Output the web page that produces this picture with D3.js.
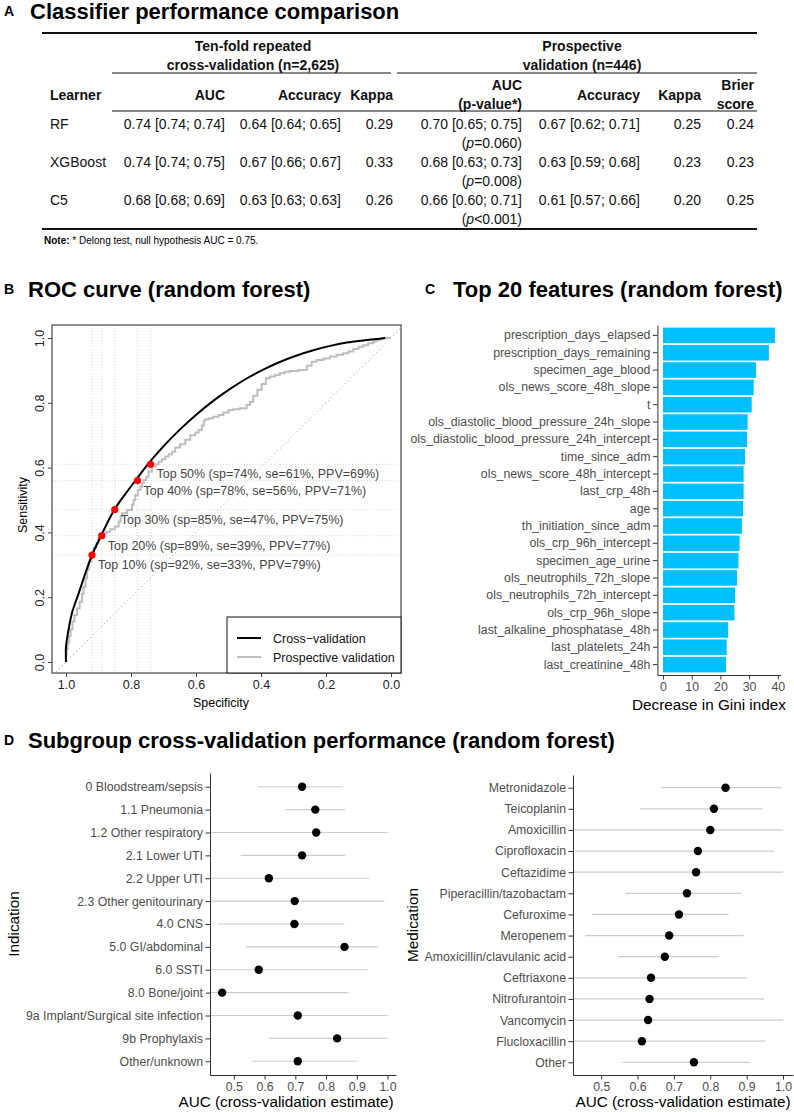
<!DOCTYPE html>
<html lang="en">
<head>
<meta charset="UTF-8">
<title>Classifier performance comparison</title>
<script src="https://d3js.org/d3.v7.min.js"></script>
<style>
  body { margin: 0; background: #fff; }
  svg { display: block; font-family: "Liberation Sans", Arial, Helvetica, sans-serif; }
  .tag { font-size: 14px; font-weight: bold; }
  .title { font-size: 22px; font-weight: bold; }
  .tbl { font-size: 14px; fill: #111; }
  .tbl.hd { font-weight: bold; }
  .note { font-size: 10px; }
  .roc-lab { font-size: 12.5px; fill: #444; }
  .roc-axis text { font-size: 12.5px; fill: #222; }
  .roc-axis line { stroke: #444; }
  .gg-axis text { font-size: 12.3px; fill: #4d4d4d; }
  .gg-axis line, .gg-axis path { stroke: #333; }
  .gg-title { font-size: 15.3px; fill: #000; }
</style>
</head>
<body>
<svg id="fig" width="794" height="1112"></svg>
<script>
// ---- table (panel A) ----
const learners = ["RF", "XGBoost", "C5"];
const cvAuc = ["0.74 [0.74; 0.74]", "0.74 [0.74; 0.75]", "0.68 [0.68; 0.69]"];
const cvAccuracy = ["0.64 [0.64; 0.65]", "0.67 [0.66; 0.67]", "0.63 [0.63; 0.63]"];
const cvKappa = ["0.29", "0.33", "0.26"];
const prosAuc = ["0.70 [0.65; 0.75]", "0.68 [0.63; 0.73]", "0.66 [0.60; 0.71]"];
const prosP = ["=0.060", "=0.008", "<0.001"];
const prosAccuracy = ["0.67 [0.62; 0.71]", "0.63 [0.59; 0.68]", "0.61 [0.57; 0.66]"];
const prosKappa = ["0.25", "0.23", "0.20"];
const prosBrier = ["0.24", "0.23", "0.25"];

// ---- ROC (panel B) : [specificity, sensitivity] ----
const cvRoc = [[1.000,0.000],[1.000,0.047],[0.994,0.089],[0.982,0.150],[0.961,0.212],[0.940,0.275],
  [0.920,0.330],[0.891,0.392],[0.853,0.467],[0.820,0.515],[0.787,0.559],[0.746,0.613],[0.700,0.666],
  [0.649,0.718],[0.602,0.761],[0.547,0.806],[0.495,0.843],[0.444,0.875],[0.390,0.904],[0.342,0.926],
  [0.290,0.946],[0.239,0.962],[0.190,0.975],[0.136,0.986],[0.080,0.993],[0.034,0.998],[0.018,1.000]];
const prospectiveRoc = [[1.000,0.000],[0.998,0.020],[0.995,0.040],[0.990,0.060],[0.986,0.080],[0.980,0.100],
  [0.974,0.125],[0.966,0.145],[0.958,0.165],[0.951,0.186],[0.946,0.210],[0.940,0.232],[0.935,0.258],
  [0.930,0.284],[0.922,0.310],[0.915,0.336],[0.906,0.352],[0.900,0.367],[0.893,0.382],[0.889,0.392],
  [0.876,0.397],[0.864,0.402],[0.850,0.410],[0.838,0.418],[0.832,0.433],[0.828,0.449],[0.812,0.459],
  [0.797,0.469],[0.792,0.485],[0.787,0.500],[0.779,0.515],[0.771,0.531],[0.766,0.541],[0.761,0.552],
  [0.753,0.562],[0.746,0.572],[0.735,0.588],[0.725,0.603],[0.715,0.610],[0.705,0.618],[0.694,0.626],
  [0.684,0.634],[0.674,0.641],[0.664,0.649],[0.649,0.662],[0.633,0.672],[0.618,0.686],[0.602,0.700],
  [0.592,0.708],[0.582,0.716],[0.576,0.730],[0.571,0.745],[0.560,0.749],[0.547,0.752],[0.531,0.757],
  [0.516,0.762],[0.500,0.770],[0.485,0.778],[0.465,0.780],[0.444,0.783],[0.434,0.793],[0.424,0.803],
  [0.411,0.822],[0.398,0.840],[0.385,0.858],[0.372,0.876],[0.357,0.881],[0.342,0.886],[0.327,0.891],
  [0.311,0.896],[0.285,0.898],[0.259,0.901],[0.244,0.914],[0.229,0.927],[0.208,0.932],[0.188,0.937],
  [0.167,0.943],[0.147,0.948],[0.131,0.953],[0.116,0.958],[0.100,0.966],[0.085,0.973],[0.070,0.978],
  [0.054,0.984],[0.044,0.989],[0.034,0.994],[0.024,0.996],[0.013,0.999],[0.000,1.000]];
const cutoffSpec = [0.92, 0.89, 0.85, 0.78, 0.74];
const cutoffSens = [0.33, 0.39, 0.47, 0.56, 0.61];
const cutoffLabels = ["Top 10% (sp=92%, se=33%, PPV=79%)", "Top 20% (sp=89%, se=39%, PPV=77%)",
  "Top 30% (sp=85%, se=47%, PPV=75%)", "Top 40% (sp=78%, se=56%, PPV=71%)", "Top 50% (sp=74%, se=61%, PPV=69%)"];
const rocTicks = [0, 0.2, 0.4, 0.6, 0.8, 1.0];

// ---- feature importance (panel C) ----
const featureNames = ["prescription_days_elapsed", "prescription_days_remaining", "specimen_age_blood",
  "ols_news_score_48h_slope", "t", "ols_diastolic_blood_pressure_24h_slope",
  "ols_diastolic_blood_pressure_24h_intercept", "time_since_adm", "ols_news_score_48h_intercept",
  "last_crp_48h", "age", "th_initiation_since_adm", "ols_crp_96h_intercept", "specimen_age_urine",
  "ols_neutrophils_72h_slope", "ols_neutrophils_72h_intercept", "ols_crp_96h_slope",
  "last_alkaline_phosphatase_48h", "last_platelets_24h", "last_creatinine_48h"];
const featureGini = [39.0, 36.9, 32.4, 31.6, 30.9, 29.5, 29.3, 28.6, 28.1, 28.1, 27.9, 27.5, 26.7, 26.3,
  25.8, 25.1, 24.9, 22.7, 22.2, 22.0];
const giniTicks = [0, 10, 20, 30, 40];

// ---- subgroups (panel D) ----
const indicationNames = ["0 Bloodstream/sepsis", "1.1 Pneumonia", "1.2 Other respiratory", "2.1 Lower UTI",
  "2.2 Upper UTI", "2.3 Other genitourinary", "4.0 CNS", "5.0 GI/abdominal", "6.0 SSTI", "8.0 Bone/joint",
  "9a Implant/Surgical site infection", "9b Prophylaxis", "Other/unknown"];
const indicationAuc = [0.722, 0.765, 0.768, 0.722, 0.614, 0.698, 0.697, 0.860, 0.581, 0.462, 0.708, 0.836, 0.708];
const indicationLo = [0.578, 0.670, 0.38, 0.522, 0.38, 0.38, 0.448, 0.540, 0.38, 0.38, 0.38, 0.614, 0.557];
const indicationHi = [0.855, 0.862, 1.000, 0.862, 0.941, 0.990, 0.860, 0.967, 0.936, 0.873, 1.000, 1.000, 0.900];

const medicationNames = ["Metronidazole", "Teicoplanin", "Amoxicillin", "Ciprofloxacin", "Ceftazidime",
  "Piperacillin/tazobactam", "Cefuroxime", "Meropenem", "Amoxicillin/clavulanic acid", "Ceftriaxone",
  "Nitrofurantoin", "Vancomycin", "Flucloxacillin", "Other"];
const medicationAuc = [0.842, 0.810, 0.800, 0.766, 0.761, 0.736, 0.714, 0.687, 0.675, 0.637, 0.633, 0.629, 0.612, 0.755];
const medicationLo = [0.665, 0.607, 0.38, 0.429, 0.38, 0.566, 0.475, 0.455, 0.546, 0.38, 0.38, 0.38, 0.38, 0.558];
const medicationHi = [0.996, 0.944, 1.000, 0.975, 1.000, 0.886, 0.851, 0.892, 0.823, 0.900, 0.948, 1.000, 0.951, 0.910];
const aucTicks = [0.5, 0.6, 0.7, 0.8, 0.9, 1.0];

const svg = d3.select("#fig");

function panelTitle(tag, title, x, y) {
    svg.append("text").attr("class", "tag").attr("x", 4).attr("y", y - 3).text(tag);
    svg.append("text").attr("class", "title").attr("x", x).attr("y", y).text(title);
}

/* ================= A: table ================= */
panelTitle("A", "Classifier performance comparison", 30, 19);

const colRight = [225, 341, 393, 522, 640, 701, 754];
const rowY = d3.scaleLinear().domain([0, 1]).range([129, 167]);

function rule(x1, x2, y, w) {
    svg.append("line").attr("x1", x1).attr("x2", x2).attr("y1", y).attr("y2", y)
       .attr("stroke", "#111").attr("stroke-width", w);
}
rule(42, 757, 33, 2.2);
rule(112, 391, 73, 1);
rule(397, 757, 73, 1);
rule(112, 757, 111, 1);
rule(42, 757, 229, 2.2);

function txt(x, y, s, anchor, cls) {
    return svg.append("text").attr("class", "tbl " + (cls || "")).attr("x", x).attr("y", y)
              .attr("text-anchor", anchor || "end").text(s);
}
txt(253, 51, "Ten-fold repeated", "middle", "hd");
txt(253, 70, "cross-validation (n=2,625)", "middle", "hd");
txt(582, 51, "Prospective", "middle", "hd");
txt(582, 70, "validation (n=446)", "middle", "hd");

txt(50, 100, "Learner", "start", "hd");
txt(colRight[0], 100, "AUC", "end", "hd");
txt(colRight[1], 100, "Accuracy", "end", "hd");
txt(colRight[2], 100, "Kappa", "end", "hd");
txt(colRight[3], 90, "AUC", "end", "hd");
txt(colRight[3], 109, "(p-value*)", "end", "hd");
txt(colRight[4], 100, "Accuracy", "end", "hd");
txt(colRight[5], 100, "Kappa", "end", "hd");
txt(colRight[6], 90, "Brier", "end", "hd");
txt(colRight[6], 109, "score", "end", "hd");

learners.forEach((l, i) => {
    const y = rowY(i);
    txt(50, y, l, "start");
    txt(colRight[0], y, cvAuc[i]);
    txt(colRight[1], y, cvAccuracy[i]);
    txt(colRight[2], y, cvKappa[i]);
    txt(colRight[3], y, prosAuc[i]);
    const p = txt(colRight[3], y + 19, "(");
    p.append("tspan").style("font-style", "italic").text("p");
    p.append("tspan").text(prosP[i] + ")");
    txt(colRight[4], y, prosAccuracy[i]);
    txt(colRight[5], y, prosKappa[i]);
    txt(colRight[6], y, prosBrier[i]);
});

const note = svg.append("text").attr("class", "note").attr("x", 44).attr("y", 244);
note.append("tspan").style("font-weight", "bold").text("Note:");
note.append("tspan").text(" * Delong test, null hypothesis AUC = 0.75.");

/* ================= B: ROC ================= */
panelTitle("B", "ROC curve (random forest)", 28, 297);

const box = { x0: 52, x1: 401, y0: 325, y1: 673 };
const rocX = d3.scaleLinear().domain([1, 0]).range([66, 391]);
const rocY = d3.scaleLinear().domain([0, 1]).range([662, 338]);

svg.append("clipPath").attr("id", "rocClip").append("rect")
   .attr("x", box.x0).attr("y", box.y0).attr("width", box.x1 - box.x0).attr("height", box.y1 - box.y0);
const roc = svg.append("g").attr("clip-path", "url(#rocClip)");

// dotted guides at the cut-offs
cutoffSpec.forEach(s => {
    roc.append("line").attr("x1", rocX(s)).attr("x2", rocX(s)).attr("y1", box.y0).attr("y2", box.y1)
       .attr("stroke", "#d9d9d9").attr("stroke-dasharray", "1,2");
});
cutoffSens.forEach(s => {
    roc.append("line").attr("x1", box.x0).attr("x2", box.x1).attr("y1", rocY(s)).attr("y2", rocY(s))
       .attr("stroke", "#d9d9d9").attr("stroke-dasharray", "1,2");
});
// chance diagonal
roc.append("line").attr("x1", rocX(1.1)).attr("y1", rocY(-0.1)).attr("x2", rocX(-0.1)).attr("y2", rocY(1.1))
   .attr("stroke", "#9a9a9a").attr("stroke-dasharray", "1,3");

roc.append("path").datum(prospectiveRoc)
   .attr("d", d3.line().x(d => rocX(d[0])).y(d => rocY(d[1])).curve(d3.curveStepBefore))
   .attr("fill", "none").attr("stroke", "#bdbdbd").attr("stroke-width", 2);
roc.append("path").datum(cvRoc)
   .attr("d", d3.line().x(d => rocX(d[0])).y(d => rocY(d[1])).curve(d3.curveCatmullRom))
   .attr("fill", "none").attr("stroke", "#000").attr("stroke-width", 2);

cutoffSpec.forEach((s, i) => {
    svg.append("circle").attr("cx", rocX(s)).attr("cy", rocY(cutoffSens[i])).attr("r", 3.6).attr("fill", "#f00");
    svg.append("text").attr("class", "roc-lab").attr("x", rocX(s) + 6).attr("y", rocY(cutoffSens[i]) + 14)
       .text(cutoffLabels[i]);
});

const rocYAxis = svg.append("g").attr("class", "roc-axis").attr("transform", `translate(${box.x0},0)`)
   .call(d3.axisLeft(rocY).tickValues(rocTicks).tickFormat(d3.format(".1f")).tickSize(4).tickSizeOuter(0));
rocYAxis.select(".domain").remove();
rocYAxis.selectAll("text").attr("transform", "rotate(-90)").attr("x", 0).attr("y", -8).attr("dy", 0)
   .style("text-anchor", "middle");
const rocXAxis = svg.append("g").attr("class", "roc-axis").attr("transform", `translate(0,${box.y1})`)
   .call(d3.axisBottom(rocX).tickValues(rocTicks).tickFormat(d3.format(".1f")).tickSize(4).tickPadding(3));
rocXAxis.select(".domain").remove();

svg.append("rect").attr("x", box.x0).attr("y", box.y0).attr("width", box.x1 - box.x0).attr("height", box.y1 - box.y0)
   .attr("fill", "none").attr("stroke", "#444").attr("stroke-width", 1.2);

svg.append("text").attr("x", 221).attr("y", 707).attr("text-anchor", "middle").style("font-size", "12.4px")
   .text("Specificity");
svg.append("text").attr("transform", "translate(27,505) rotate(-90)").attr("text-anchor", "middle")
   .style("font-size", "12.4px").text("Sensitivity");

// legend
const leg = svg.append("g");
leg.append("rect").attr("x", 227).attr("y", 617).attr("width", 174).attr("height", 56)
   .attr("fill", "#fff").attr("stroke", "#111").attr("stroke-width", 1);
[["Cross\u2212validation", "#000", 638], ["Prospective validation", "#bdbdbd", 657]].forEach(([lab, col, y]) => {
    leg.append("line").attr("x1", 237).attr("x2", 261).attr("y1", y).attr("y2", y)
       .attr("stroke", col).attr("stroke-width", 2);
    leg.append("text").attr("x", 273).attr("y", y + 4.5).style("font-size", "12.5px").attr("fill", "#111").text(lab);
});

/* ================= C: feature importance ================= */
svg.append("text").attr("class", "tag").attr("x", 425).attr("y", 294).text("C");
svg.append("text").attr("class", "title").attr("x", 453).attr("y", 297).text("Top 20 features (random forest)");

const gx = d3.scaleLinear().domain([-1.95, 40.95]).range([657.4, 780.5]);
const gy = d3.scaleBand().domain(featureNames).range([325, 675]).paddingInner(0.1).paddingOuter(0.15);

svg.append("g").selectAll("rect").data(featureNames).join("rect")
   .attr("x", gx(0)).attr("y", d => gy(d)).attr("height", gy.bandwidth())
   .attr("width", (d, i) => gx(featureGini[i]) - gx(0))
   .attr("fill", "#00bfff");

svg.append("g").attr("class", "gg-axis").attr("transform", "translate(657.4,0)")
   .call(d3.axisLeft(gy).tickSize(4.5).tickPadding(2.5).tickSizeOuter(0));
svg.append("g").attr("class", "gg-axis").attr("transform", "translate(0,675)")
   .call(d3.axisBottom(gx).tickValues(giniTicks).tickSize(4.5).tickPadding(2.5).tickSizeOuter(0));
svg.append("text").attr("class", "gg-title").attr("x", 709).attr("y", 710).attr("text-anchor", "middle")
   .text("Decrease in Gini index");

/* ================= D: subgroups ================= */
panelTitle("D", "Subgroup cross-validation performance (random forest)", 28, 748);

function dotPanel(names, auc, lo, hi, x0, x1, y0, y1, yTitle, yTitleX, xTitleX, clipId) {
    const x = d3.scaleLinear().domain([0.4225, 1.0275]).range([x0, x1]);
    const y = d3.scalePoint().domain(names).range([y0, y1]).padding(0.6);
    svg.append("clipPath").attr("id", clipId).append("rect")
       .attr("x", x0).attr("y", y0).attr("width", x1 - x0).attr("height", y1 - y0);
    const g = svg.append("g").attr("clip-path", `url(#${clipId})`);
    g.selectAll("line").data(names).join("line")
       .attr("x1", (d, i) => x(lo[i])).attr("x2", (d, i) => x(hi[i]))
       .attr("y1", d => y(d)).attr("y2", d => y(d))
       .attr("stroke", "#cccccc").attr("stroke-width", 1.2);
    g.selectAll("circle").data(names).join("circle")
       .attr("cx", (d, i) => x(auc[i])).attr("cy", d => y(d)).attr("r", 4.2).attr("fill", "#000");
    svg.append("g").attr("class", "gg-axis").attr("transform", `translate(${x0},0)`)
       .call(d3.axisLeft(y).tickSize(4.5).tickPadding(2.5).tickSizeOuter(0));
    svg.append("g").attr("class", "gg-axis").attr("transform", `translate(0,${y1})`)
       .call(d3.axisBottom(x).tickValues(aucTicks).tickFormat(d3.format(".1f")).tickSize(4.5).tickPadding(2.5).tickSizeOuter(0));
    svg.append("text").attr("class", "gg-title").attr("x", xTitleX).attr("y", y1 + 32).attr("text-anchor", "middle")
       .text("AUC (cross-validation estimate)");
    svg.append("text").attr("class", "gg-title")
       .attr("transform", `translate(${yTitleX},${(y0 + y1) / 2}) rotate(-90)`).attr("text-anchor", "middle")
       .text(yTitle);
}
dotPanel(indicationNames, indicationAuc, indicationLo, indicationHi, 210, 396, 773, 1075, "Indication", 19, 286, "clipInd");
dotPanel(medicationNames, medicationAuc, medicationLo, medicationHi, 573, 793, 775, 1075, "Medication", 418, 683, "clipMed");
</script>
</body>
</html>
